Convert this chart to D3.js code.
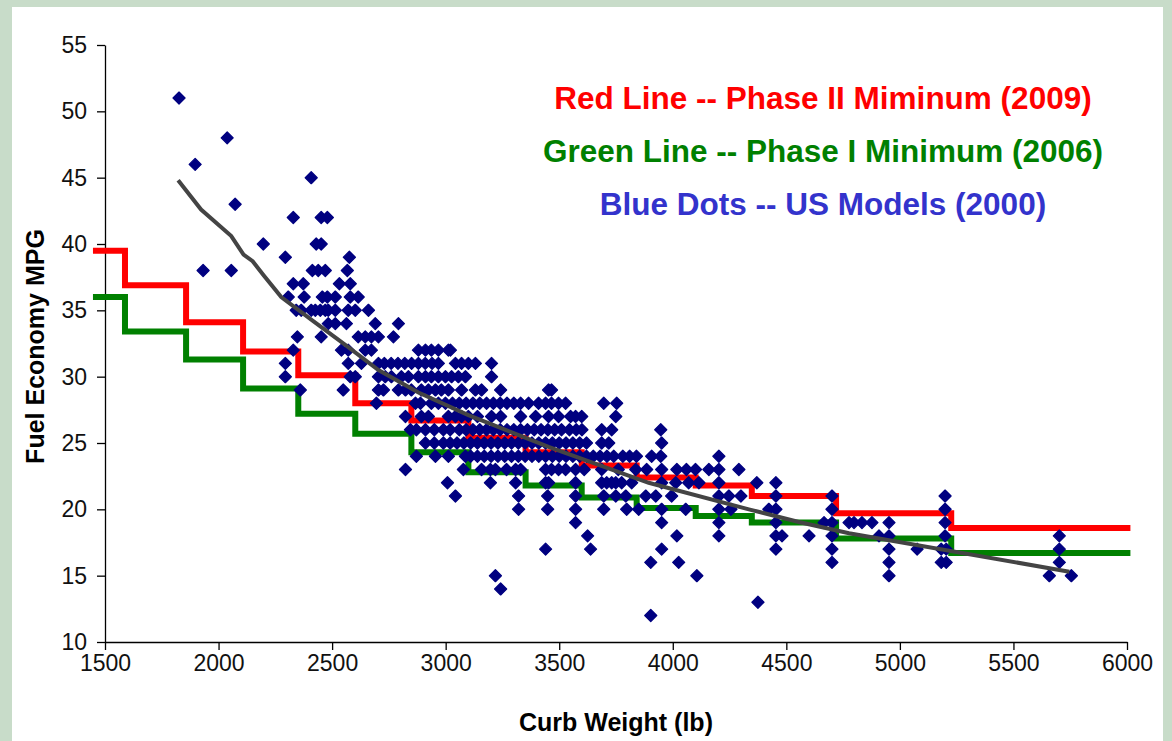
<!DOCTYPE html>
<meta charset="utf-8">
<script src="https://d3js.org/d3.v7.min.js"></script>
<style>
  body { margin: 0; background: #c8dcc9; }
  text { font-family: "Liberation Sans", Arial, sans-serif; }
</style>
<div id="chart"></div>
<script>
// weight class breaks (lb) shared by both step lines
var stepBreaks = [1447, 1588, 1857, 2108, 2351, 2602, 2849, 3100, 3352, 3599, 3841, 4101, 4348, 4719, 5226, 6015];
var phase2Mpg = [39.5, 36.9, 34.1, 31.9, 30.1, 28.0, 26.7, 25.4, 24.3, 23.3, 22.4, 21.8, 21.0, 19.7, 18.6];
var phase1Mpg = [36.0, 33.4, 31.3, 29.1, 27.2, 25.7, 24.3, 22.8, 21.8, 20.9, 20.1, 19.5, 19.0, 17.8, 16.7];

// US models 2000, one row of curb weights per mpg value
var dotMpg = [51, 48, 46, 45, 43, 42, 40, 39, 38, 37, 36, 35, 34, 33, 32, 31, 30, 29, 28, 27, 26, 25, 24, 23, 22, 21, 20, 19, 18, 17, 16, 15, 14, 13, 12];
var dotWeights = [
  [1826],
  [2038],
  [1897],
  [2408],
  [2073],
  [2329, 2452, 2479],
  [2197, 2430, 2452],
  [2294, 2576],
  [1932, 2056, 2413, 2439, 2470, 2567],
  [2329, 2373, 2532, 2580],
  [2307, 2377, 2457, 2479, 2514, 2580, 2615],
  [2342, 2364, 2408, 2426, 2448, 2470, 2483, 2514, 2571, 2602, 2660],
  [2483, 2514, 2563, 2690, 2792],
  [2347, 2452, 2615, 2646, 2673, 2704, 2770],
  [2329, 2541, 2571, 2646, 2673, 2880, 2911, 2937, 2968, 3012, 3021],
  [2294, 2571, 2629, 2704, 2730, 2760, 2790, 2820, 2850, 2880, 2910, 2940, 2968, 3043, 3070, 3100, 3131, 3202],
  [2294, 2580, 2602, 2704, 2734, 2761, 2805, 2836, 2880, 2911, 2937, 2968, 2999, 3026, 3056, 3087, 3202],
  [2360, 2549, 2704, 2726, 2792, 2823, 2849, 2893, 2924, 2955, 2981, 3012, 3070, 3131, 3158, 3242, 3453, 3466],
  [2695, 2867, 2889, 2937, 2968, 2999, 3030, 3060, 3090, 3120, 3150, 3180, 3210, 3240, 3270, 3300, 3330, 3365, 3409, 3440, 3466, 3497, 3528, 3696, 3753],
  [2823, 2893, 2924, 3012, 3043, 3070, 3100, 3140, 3202, 3242, 3330, 3396, 3453, 3497, 3550, 3572, 3599, 3749],
  [2845, 2871, 2911, 2950, 2990, 3020, 3060, 3090, 3120, 3150, 3180, 3210, 3240, 3270, 3300, 3330, 3360, 3390, 3420, 3450, 3480, 3510, 3545, 3575, 3600, 3687, 3731, 3947],
  [2911, 2950, 2990, 3020, 3050, 3080, 3110, 3140, 3170, 3200, 3230, 3260, 3290, 3320, 3350, 3380, 3410, 3440, 3470, 3500, 3530, 3560, 3590, 3620, 3687, 3718, 3951],
  [2871, 2955, 3012, 3087, 3110, 3140, 3170, 3200, 3230, 3260, 3290, 3320, 3350, 3380, 3410, 3440, 3470, 3500, 3530, 3560, 3590, 3620, 3650, 3680, 3710, 3740, 3780, 3810, 3840, 3907, 3947, 4203],
  [2823, 3078, 3158, 3197, 3219, 3268, 3308, 3330, 3440, 3466, 3497, 3528, 3572, 3610, 3687, 3760, 3837, 3885, 3951, 4018, 4060, 4100, 4159, 4203, 4291],
  [3008, 3197, 3308, 3440, 3453, 3572, 3687, 3709, 3731, 3749, 3775, 3819, 3951, 4013, 4070, 4115, 4203, 4370, 4454],
  [3043, 3321, 3449, 3572, 3696, 3749, 3793, 3881, 3925, 3995, 4203, 4247, 4300, 4454, 4701, 5199],
  [3321, 3449, 3572, 3696, 3797, 3850, 3951, 4057, 4203, 4256, 4423, 4454, 4701, 5199],
  [3572, 3951, 4203, 4454, 4666, 4701, 4776, 4798, 4833, 4877, 4952, 5199],
  [3625, 4018, 4203, 4454, 4481, 4600, 4701, 4908, 4952, 5199, 5702],
  [3440, 3638, 3951, 4454, 4701, 4952, 5076, 5182, 5204, 5702],
  [3903, 4026, 4701, 4952, 5182, 5204, 5702],
  [3219, 4106, 4952, 5658, 5755],
  [3242],
  [4375],
  [3903]
];

// grey trend line
var trendWeight = [1822, 1923, 2056, 2110, 2150, 2200, 2276, 2408, 2558, 2704, 2880, 3100, 3453, 3894, 4335, 4555, 4776, 5746];
var trendMpg = [44.8, 42.6, 40.6, 39.2, 38.7, 37.6, 36.0, 34.3, 32.4, 30.5, 28.8, 27.1, 24.7, 22.0, 20.0, 19.05, 18.2, 15.3];

var xTicks = [1500, 2000, 2500, 3000, 3500, 4000, 4500, 5000, 5500, 6000];
var yTicks = [10, 15, 20, 25, 30, 35, 40, 45, 50, 55];

var legendText = ["Red Line -- Phase II Miminum (2009)", "Green Line -- Phase I Minimum (2006)", "Blue Dots -- US Models (2000)"];
var legendColor = ["#ff0000", "#008000", "#3333cc"];

var width = 1172, height = 741;
var plotLeft = 105, plotRight = 1127, plotTop = 45, plotBottom = 642;

var svg = d3.select("#chart").append("svg")
    .attr("width", width)
    .attr("height", height)
    .style("display", "block");

svg.append("rect")
    .attr("x", 12).attr("y", 7)
    .attr("width", 1151).attr("height", 740)
    .attr("fill", "#fff");

var x = d3.scaleLinear().domain([1500, 6000]).range([plotLeft, plotRight]);
var y = d3.scaleLinear().domain([10, 55]).range([plotBottom, plotTop]);

// axes
var xAxis = svg.append("g")
    .attr("transform", "translate(0," + plotBottom + ")")
    .call(d3.axisBottom(x).tickValues(xTicks).tickFormat(d3.format("d"))
      .tickSize(8).tickPadding(5).tickSizeOuter(0));
var yAxis = svg.append("g")
    .attr("transform", "translate(" + plotLeft + ",0)")
    .call(d3.axisLeft(y).tickValues(yTicks).tickFormat(d3.format("d"))
      .tickSize(8).tickPadding(10).tickSizeOuter(0));

[xAxis, yAxis].forEach(function (g) {
  g.select(".domain").attr("stroke", "#000").attr("stroke-width", 1.3);
  g.selectAll(".tick line").attr("stroke", "#000").attr("stroke-width", 1.3);
  g.selectAll(".tick text")
    .attr("fill", "#111")
    .style("font-size", "23px")
    .style("font-family", "'Liberation Sans', Arial, sans-serif");
});

svg.append("text")
    .attr("x", (plotLeft + plotRight) / 2)
    .attr("y", 731)
    .attr("text-anchor", "middle")
    .style("font-size", "25px")
    .style("font-weight", "bold")
    .text("Curb Weight (lb)");

svg.append("text")
    .attr("transform", "translate(44," + ((plotTop + plotBottom) / 2 + 3) + ") rotate(-90)")
    .attr("text-anchor", "middle")
    .style("font-size", "25px")
    .style("font-weight", "bold")
    .text("Fuel Economy MPG");

// step lines
var stepLine = d3.line()
    .x(function (d) { return x(d[0]); })
    .y(function (d) { return y(d[1]); })
    .curve(d3.curveStepAfter);

function stepPoints(vals) {
  var pts = vals.map(function (v, i) { return [stepBreaks[i], v]; });
  pts.push([stepBreaks[stepBreaks.length - 1], vals[vals.length - 1]]);
  return pts;
}

svg.append("path")
    .attr("d", stepLine(stepPoints(phase1Mpg)))
    .attr("fill", "none")
    .attr("stroke", "#008000")
    .attr("stroke-width", 6);

svg.append("path")
    .attr("d", stepLine(stepPoints(phase2Mpg)))
    .attr("fill", "none")
    .attr("stroke", "#ff0000")
    .attr("stroke-width", 6);

// dots
var dots = [];
dotMpg.forEach(function (m, i) {
  dotWeights[i].forEach(function (w) { dots.push({ w: w, m: m }); });
});

svg.append("g")
  .selectAll("path")
  .data(dots)
  .enter()
  .append("path")
    .attr("transform", function (d) { return "translate(" + x(d.w) + "," + y(d.m) + ")"; })
    .attr("d", "M0,-6L6,0L0,6L-6,0Z")
    .attr("fill", "#000080")
    .attr("stroke", "#000080")
    .attr("stroke-width", 1.3)
    .attr("stroke-linejoin", "round");

// trend
var trend = trendWeight.map(function (w, i) { return [w, trendMpg[i]]; });
svg.append("path")
    .attr("d", d3.line()
      .x(function (d) { return x(d[0]); })
      .y(function (d) { return y(d[1]); })(trend))
    .attr("fill", "none")
    .attr("stroke", "#444")
    .attr("stroke-width", 4);

// legend text
svg.selectAll(".legend")
  .data(legendText)
  .enter()
  .append("text")
    .attr("class", "legend")
    .attr("x", 823)
    .attr("y", function (d, i) { return 109 + i * 53; })
    .attr("text-anchor", "middle")
    .attr("fill", function (d, i) { return legendColor[i]; })
    .style("font-size", "31.5px")
    .style("font-weight", "bold")
    .text(function (d) { return d; });
</script>
